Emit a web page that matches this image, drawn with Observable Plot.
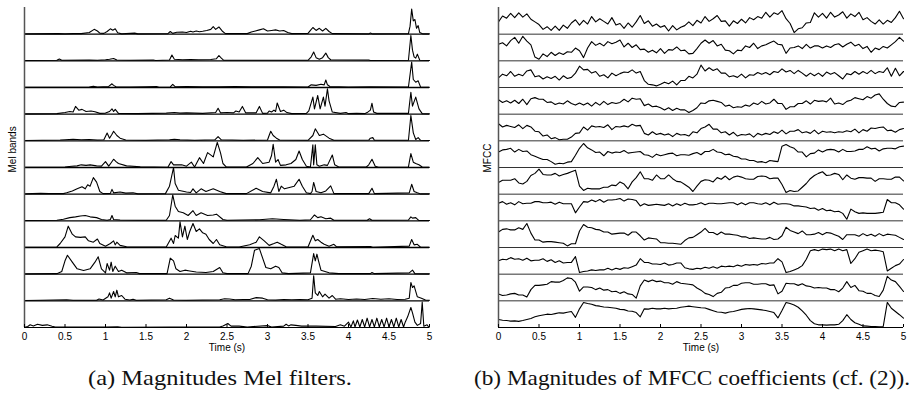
<!DOCTYPE html>
<html><head><meta charset="utf-8">
<script src="https://cdn.jsdelivr.net/npm/d3@7"></script>
<script src="https://cdn.jsdelivr.net/npm/@observablehq/plot@0.6"></script>
<style>
body{margin:0;background:#fff;}
#wrap{position:relative;width:916px;height:394px;overflow:hidden;background:#fff;}
#left{position:absolute;left:0;top:0;}
#right{position:absolute;left:460px;top:0;}
#caps{position:absolute;left:0;top:354px;}
</style></head>
<body><div id="wrap"><div id="left"></div><div id="right"></div>
<svg id="caps" width="916" height="40" font-family="'Liberation Serif', 'Times New Roman', serif" font-size="21" fill="#111">
<text id="capA" x="220" y="31" text-anchor="middle" textLength="264" lengthAdjust="spacingAndGlyphs">(a) Magnitudes Mel filters.</text>
<text id="capB" x="692" y="31" text-anchor="middle" textLength="436" lengthAdjust="spacingAndGlyphs">(b) Magnitudes of MFCC coefficients (cf. (2)).</text>
</svg></div>
<script>
// ---- Data ----
const xTicks = [0, 0.5, 1, 1.5, 2, 2.5, 3, 3.5, 4, 4.5, 5];
const xLabel = "Time (s)";
const melLabel = "Mel bands";
const mfccLabel = "MFCC";

// Mel filter magnitudes (top band first): [time (s), magnitude]
const mel1 = [[0,0.01],[0.42,0.02],[0.5,0.01],[0.6,0.02],[0.7,0.02],[0.8,0.06],[0.86,0.18],[0.9,0.12],[0.93,0.04],[0.98,0.03],[1.02,0.1],[1.06,0.2],[1.09,0.15],[1.12,0.2],[1.15,0.05],[1.2,0.01],[1.36,0.04],[1.4,0.01],[1.77,0.02],[1.8,0.1],[1.83,0.03],[1.88,0.07],[1.95,0.08],[2.0,0.06],[2.05,0.11],[2.08,0.08],[2.12,0.12],[2.16,0.09],[2.2,0.11],[2.25,0.14],[2.3,0.18],[2.33,0.28],[2.36,0.18],[2.4,0.27],[2.44,0.12],[2.48,0.02],[2.75,0.02],[2.8,0.08],[2.85,0.12],[2.9,0.16],[2.95,0.2],[3.0,0.12],[3.05,0.14],[3.1,0.16],[3.15,0.12],[3.2,0.14],[3.25,0.06],[3.3,0.02],[3.5,0.03],[3.53,0.14],[3.56,0.25],[3.6,0.14],[3.64,0.22],[3.68,0.12],[3.72,0.22],[3.76,0.1],[3.8,0.02],[4.25,0.01],[4.27,0.04],[4.3,0.01],[4.74,0.02],[4.76,0.3],[4.78,0.94],[4.8,0.5],[4.82,0.55],[4.84,0.22],[4.86,0.32],[4.88,0.06],[4.92,0.01],[5,0.01]];
const mel2 = [[0,0.01],[0.4,0.02],[0.43,0.07],[0.46,0.02],[0.8,0.03],[0.9,0.02],[1.0,0.04],[1.05,0.06],[1.1,0.09],[1.14,0.03],[1.3,0.02],[1.59,0.03],[1.62,0.01],[1.79,0.03],[1.82,0.22],[1.85,0.06],[1.95,0.04],[2.05,0.05],[2.15,0.04],[2.3,0.05],[2.37,0.08],[2.4,0.2],[2.43,0.1],[2.46,0.02],[2.7,0.02],[3.0,0.02],[3.5,0.02],[3.54,0.15],[3.57,0.33],[3.6,0.12],[3.64,0.06],[3.68,0.12],[3.72,0.29],[3.75,0.12],[3.78,0.04],[4.25,0.03],[4.27,0.01],[4.74,0.02],[4.77,0.95],[4.79,0.4],[4.81,0.15],[4.83,0.1],[4.85,0.25],[4.88,0.02],[5,0.01]];
const mel3 = [[0,0.01],[0.8,0.02],[0.85,0.05],[0.9,0.02],[1.04,0.04],[1.08,0.14],[1.1,0.08],[1.13,0.03],[1.3,0.02],[1.5,0.03],[1.63,0.04],[1.66,0.01],[1.8,0.02],[1.83,0.12],[1.86,0.03],[2.0,0.04],[2.2,0.03],[2.4,0.03],[2.6,0.04],[2.8,0.03],[3.0,0.03],[3.2,0.03],[3.5,0.02],[3.54,0.1],[3.6,0.08],[3.66,0.12],[3.7,0.1],[3.72,0.28],[3.74,0.1],[3.77,0.04],[4.0,0.02],[4.27,0.03],[4.74,0.02],[4.78,0.95],[4.8,0.3],[4.83,0.2],[4.86,0.25],[4.89,0.02],[5,0.01]];
const mel4 = [[0,0.01],[0.4,0.02],[0.5,0.06],[0.56,0.1],[0.6,0.08],[0.63,0.29],[0.67,0.15],[0.71,0.18],[0.76,0.1],[0.82,0.12],[0.87,0.09],[0.93,0.03],[1.0,0.04],[1.05,0.1],[1.08,0.2],[1.1,0.1],[1.12,0.18],[1.16,0.03],[1.4,0.02],[1.75,0.04],[1.85,0.06],[1.92,0.04],[2.0,0.05],[2.2,0.03],[2.36,0.06],[2.39,0.22],[2.42,0.05],[2.5,0.06],[2.58,0.05],[2.61,0.12],[2.65,0.08],[2.69,0.29],[2.73,0.05],[2.86,0.05],[2.9,0.29],[2.94,0.03],[3.0,0.04],[3.02,0.12],[3.05,0.08],[3.08,0.15],[3.1,0.1],[3.12,0.42],[3.16,0.1],[3.2,0.15],[3.24,0.06],[3.3,0.02],[3.48,0.03],[3.51,0.12],[3.56,0.64],[3.58,0.2],[3.62,0.7],[3.65,0.2],[3.69,0.64],[3.71,0.3],[3.74,0.95],[3.76,0.5],[3.8,0.08],[3.9,0.03],[3.97,0.06],[4.0,0.02],[4.1,0.03],[4.2,0.02],[4.23,0.06],[4.27,0.15],[4.29,0.41],[4.31,0.08],[4.35,0.03],[4.74,0.03],[4.77,0.82],[4.79,0.3],[4.83,0.64],[4.87,0.2],[4.91,0.02],[5,0.01]];
const mel5 = [[0,0.01],[0.44,0.03],[0.5,0.04],[0.6,0.06],[0.7,0.04],[0.8,0.05],[0.9,0.03],[0.98,0.04],[1.02,0.29],[1.05,0.1],[1.08,0.25],[1.1,0.36],[1.14,0.2],[1.18,0.1],[1.25,0.03],[1.5,0.02],[1.79,0.04],[1.85,0.06],[1.92,0.04],[2.1,0.02],[2.35,0.04],[2.39,0.16],[2.43,0.04],[2.7,0.02],[3.0,0.03],[3.02,0.2],[3.04,0.36],[3.07,0.2],[3.11,0.1],[3.15,0.03],[3.5,0.02],[3.56,0.2],[3.59,0.45],[3.62,0.3],[3.64,0.2],[3.69,0.25],[3.76,0.1],[3.82,0.02],[4.25,0.03],[4.27,0.1],[4.3,0.12],[4.32,0.02],[4.74,0.02],[4.77,0.95],[4.8,0.3],[4.83,0.05],[4.86,0.12],[4.89,0.02],[5,0.01]];
const mel6 = [[0,0.01],[0.5,0.02],[0.55,0.04],[0.65,0.06],[0.7,0.1],[0.76,0.08],[0.81,0.1],[0.89,0.06],[0.95,0.05],[1.0,0.22],[1.04,0.05],[1.07,0.18],[1.1,0.31],[1.13,0.22],[1.16,0.15],[1.26,0.06],[1.43,0.03],[1.77,0.01],[1.81,0.22],[1.84,0.1],[1.94,0.1],[2.0,0.05],[2.06,0.2],[2.1,0.02],[2.16,0.37],[2.21,0.15],[2.26,0.56],[2.33,0.4],[2.38,0.94],[2.42,0.55],[2.45,0.15],[2.49,0.02],[2.74,0.02],[2.82,0.15],[2.88,0.37],[2.94,0.15],[3.02,0.2],[3.05,0.45],[3.07,0.87],[3.1,0.2],[3.13,0.3],[3.16,0.08],[3.23,0.1],[3.29,0.15],[3.35,0.3],[3.39,0.62],[3.43,0.3],[3.48,0.05],[3.53,0.02],[3.56,0.85],[3.57,0.1],[3.59,0.85],[3.61,0.1],[3.64,0.05],[3.7,0.1],[3.74,0.08],[3.8,0.47],[3.83,0.1],[3.88,0.02],[4.22,0.02],[4.25,0.1],[4.29,0.31],[4.33,0.05],[4.37,0.01],[4.74,0.02],[4.77,0.52],[4.8,0.2],[4.83,0.15],[4.87,0.1],[4.91,0.02],[5,0.01]];
const mel7 = [[0,0.01],[0.1,0.02],[0.2,0.03],[0.3,0.02],[0.48,0.02],[0.52,0.05],[0.59,0.12],[0.65,0.2],[0.71,0.28],[0.75,0.2],[0.78,0.35],[0.81,0.3],[0.85,0.62],[0.89,0.45],[0.93,0.1],[0.97,0.02],[1.06,0.03],[1.08,0.18],[1.1,0.05],[1.18,0.08],[1.25,0.04],[1.34,0.05],[1.4,0.01],[1.74,0.02],[1.79,0.3],[1.84,1.0],[1.86,0.4],[1.9,0.15],[2.0,0.08],[2.05,0.06],[2.08,0.2],[2.12,0.05],[2.18,0.2],[2.24,0.1],[2.33,0.2],[2.41,0.1],[2.49,0.02],[2.74,0.02],[2.86,0.22],[2.94,0.1],[3.04,0.05],[3.08,0.3],[3.11,0.56],[3.14,0.1],[3.17,0.3],[3.21,0.2],[3.27,0.25],[3.33,0.3],[3.39,0.56],[3.43,0.3],[3.48,0.05],[3.53,0.02],[3.55,0.1],[3.57,0.44],[3.6,0.1],[3.66,0.05],[3.72,0.12],[3.78,0.31],[3.82,0.02],[4.25,0.02],[4.29,0.22],[4.32,0.02],[4.75,0.05],[4.78,0.37],[4.81,0.1],[4.85,0.05],[4.89,0.01],[5,0.01]];
const mel8 = [[0,0.01],[0.4,0.02],[0.48,0.06],[0.56,0.12],[0.63,0.15],[0.69,0.18],[0.75,0.2],[0.81,0.15],[0.89,0.12],[0.95,0.05],[1.02,0.02],[1.06,0.05],[1.08,0.2],[1.1,0.05],[1.18,0.03],[1.4,0.02],[1.75,0.02],[1.79,0.2],[1.83,0.97],[1.86,0.55],[1.9,0.35],[1.96,0.3],[2.02,0.2],[2.08,0.38],[2.12,0.2],[2.18,0.3],[2.26,0.2],[2.33,0.22],[2.37,0.25],[2.45,0.05],[2.5,0.02],[2.9,0.04],[3.06,0.08],[3.2,0.05],[3.4,0.02],[3.53,0.04],[3.58,0.22],[3.62,0.12],[3.66,0.15],[3.72,0.08],[3.78,0.1],[3.82,0.02],[4.23,0.02],[4.26,0.08],[4.29,0.02],[4.74,0.03],[4.77,0.15],[4.79,0.1],[4.83,0.12],[4.87,0.01],[5,0.01]];
const mel9 = [[0,0.01],[0.4,0.02],[0.44,0.15],[0.5,0.4],[0.54,0.8],[0.59,0.5],[0.63,0.4],[0.69,0.38],[0.75,0.4],[0.79,0.25],[0.85,0.2],[0.9,0.32],[0.93,0.15],[1.0,0.05],[1.06,0.15],[1.1,0.25],[1.12,0.1],[1.14,0.2],[1.18,0.08],[1.26,0.03],[1.45,0.02],[1.75,0.02],[1.81,0.35],[1.84,0.15],[1.86,0.45],[1.9,0.35],[1.92,0.96],[1.95,0.4],[1.98,0.8],[2.01,0.3],[2.04,0.6],[2.08,0.9],[2.12,0.6],[2.16,0.7],[2.2,0.55],[2.24,0.5],[2.28,0.3],[2.33,0.15],[2.37,0.3],[2.41,0.1],[2.49,0.03],[2.65,0.02],[2.78,0.1],[2.86,0.2],[2.9,0.4],[2.96,0.25],[3.02,0.08],[3.08,0.15],[3.12,0.2],[3.17,0.12],[3.23,0.03],[3.5,0.02],[3.56,0.46],[3.59,0.25],[3.62,0.3],[3.66,0.2],[3.7,0.12],[3.76,0.05],[3.82,0.12],[3.85,0.03],[4.27,0.04],[4.3,0.01],[4.75,0.05],[4.78,0.3],[4.81,0.1],[4.85,0.12],[4.89,0.01],[5,0.01]];
const mel10 = [[0,0.01],[0.4,0.02],[0.46,0.1],[0.5,0.5],[0.53,0.71],[0.59,0.45],[0.65,0.2],[0.73,0.14],[0.81,0.2],[0.87,0.45],[0.91,0.65],[0.95,0.2],[1.0,0.05],[1.02,0.4],[1.05,0.15],[1.07,0.45],[1.09,0.1],[1.12,0.3],[1.16,0.1],[1.2,0.15],[1.26,0.05],[1.38,0.06],[1.42,0.02],[1.76,0.02],[1.8,0.6],[1.84,0.5],[1.87,0.2],[1.92,0.1],[1.98,0.15],[2.04,0.12],[2.12,0.08],[2.24,0.06],[2.33,0.1],[2.41,0.25],[2.45,0.05],[2.5,0.02],[2.76,0.02],[2.8,0.3],[2.84,0.9],[2.9,0.96],[2.94,0.6],[2.98,0.25],[3.04,0.2],[3.1,0.3],[3.14,0.25],[3.18,0.05],[3.26,0.02],[3.53,0.05],[3.57,0.77],[3.59,0.5],[3.61,0.75],[3.63,0.5],[3.66,0.15],[3.76,0.05],[3.88,0.02],[4.27,0.02],[4.29,0.06],[4.32,0.02],[4.75,0.05],[4.79,0.15],[4.82,0.02],[5,0.01]];
const mel11 = [[0,0.01],[0.2,0.02],[0.52,0.04],[0.6,0.02],[0.89,0.02],[0.92,0.07],[0.97,0.03],[1.03,0.15],[1.05,0.3],[1.07,0.1],[1.1,0.35],[1.12,0.15],[1.14,0.4],[1.16,0.15],[1.2,0.2],[1.24,0.06],[1.3,0.03],[1.34,0.06],[1.38,0.02],[1.75,0.04],[1.79,0.1],[1.84,0.03],[2.0,0.02],[2.2,0.03],[2.41,0.04],[2.47,0.08],[2.53,0.07],[2.6,0.04],[2.7,0.05],[2.78,0.05],[2.86,0.12],[2.94,0.1],[3.0,0.04],[3.1,0.03],[3.2,0.05],[3.3,0.04],[3.4,0.05],[3.5,0.04],[3.55,0.1],[3.57,0.94],[3.59,0.3],[3.62,0.2],[3.64,0.35],[3.68,0.15],[3.71,0.25],[3.76,0.1],[3.8,0.2],[3.84,0.06],[3.9,0.08],[4.0,0.05],[4.1,0.07],[4.2,0.05],[4.3,0.09],[4.4,0.06],[4.5,0.08],[4.6,0.05],[4.7,0.06],[4.75,0.1],[4.77,0.69],[4.79,0.5],[4.81,0.56],[4.85,0.15],[4.9,0.1],[4.95,0.03],[5,0.02]];
const mel12 = [[0,0.01],[0.04,0.04],[0.07,0.1],[0.11,0.06],[0.16,0.12],[0.22,0.08],[0.28,0.1],[0.34,0.05],[0.38,0.02],[1.0,0.02],[1.15,0.03],[1.2,0.01],[1.8,0.02],[2.41,0.02],[2.45,0.06],[2.51,0.15],[2.55,0.05],[2.65,0.05],[2.75,0.02],[3.0,0.07],[3.05,0.02],[3.2,0.05],[3.23,0.12],[3.26,0.06],[3.29,0.1],[3.35,0.08],[3.42,0.05],[3.6,0.05],[3.84,0.04],[3.9,0.1],[3.95,0.05],[4.0,0.2],[4.03,0.02],[4.06,0.25],[4.08,0.02],[4.11,0.28],[4.14,0.02],[4.17,0.3],[4.2,0.02],[4.23,0.35],[4.26,0.02],[4.29,0.3],[4.32,0.02],[4.35,0.35],[4.38,0.02],[4.41,0.3],[4.44,0.02],[4.47,0.35],[4.5,0.02],[4.53,0.3],[4.56,0.02],[4.59,0.35],[4.62,0.02],[4.65,0.3],[4.68,0.02],[4.7,0.2],[4.73,0.4],[4.77,0.75],[4.79,0.55],[4.82,0.2],[4.85,0.08],[4.89,0.15],[4.91,0.95],[4.93,0.05],[4.97,0.1],[4.99,0.02],[5,0.02]];

// MFCC magnitudes (top coefficient first), one frame every 0.05 s, in % of the band height
const frameStep = 0.05;
const mfcc1 = [46,68,60,78,62,80,64,76,56,46, 36,18,28,14,30,14,34,22,42,54, 34,52,38,66,46,58,48,38,62,34, 40,22,42,26,46,70,40,50,30,38, 26,32,12,32,16,26,32,46,32,52, 42,66,48,58,70,48,50,30,50,40, 56,42,62,54,66,60,82,64,80,74, 88,58,40,6,20,24,42,44,80,64, 78,60,82,64,72,84,60,76,66,82, 54,62,48,38,54,38,52,44,62,86, 58];
const mfcc2 = [62,68,56,76,88,66,92,74,60,14, 6,26,16,32,20,30,24,34,32,48, 38,12,48,72,58,66,56,72,64,70, 78,52,66,50,60,42,44,32,40,30, 46,28,42,40,52,38,40,26,28,46, 66,78,66,76,56,62,40,38,26,40, 38,56,50,66,46,56,60,68,74,62, 60,28,48,50,56,46,62,48,56,56, 48,56,50,60,64,52,62,70,56,62, 46,54,32,48,42,54,48,60,72,88, 74];
const mfcc3 = [36,50,44,60,42,50,44,62,66,40, 44,32,40,34,42,28,44,34,38,54, 80,66,68,54,60,42,48,36,54,44, 52,58,56,66,54,60,26,12,10,6, 12,20,14,24,10,26,26,42,36,50, 84,62,74,64,70,54,54,40,44,38, 50,36,48,46,56,50,56,48,60,56, 70,58,64,52,64,54,42,54,44,54, 42,58,50,56,44,32,52,48,60,50, 60,52,64,52,60,56,74,42,72,44, 60];
const mfcc4 = [54,44,50,42,52,40,56,36,58,62, 56,56,44,46,36,42,38,50,40,34, 42,34,42,30,44,34,48,36,44,40, 44,56,46,60,56,58,32,38,28,30, 24,16,24,14,22,16,16,6,14,24, 42,40,50,52,48,44,30,34,24,28, 26,34,30,42,36,48,38,42,56,40, 40,18,28,28,40,40,50,38,52,48, 50,46,60,38,42,36,48,52,62,58, 54,66,60,72,76,56,40,30,28,44, 45];
const mfcc5 = [64,52,58,54,50,60,46,58,52,36, 34,18,22,8,12,4,6,6,14,28, 30,52,40,56,52,54,50,60,42,54, 52,56,52,62,56,58,28,22,34,24, 28,22,26,16,28,22,24,18,34,30, 46,52,62,44,44,30,34,22,32,18, 24,22,26,14,28,22,28,24,34,28, 40,26,36,36,42,30,34,28,40,26, 36,32,34,30,34,32,38,34,44,30, 42,36,48,46,50,52,38,40,32,42, 46];
const mfcc6 = [58,66,68,72,58,68,60,62,48,42, 36,30,30,22,12,16,14,20,22,46, 72,90,74,66,56,58,44,60,54,58, 56,64,54,56,58,60,48,46,38,50, 44,48,52,54,44,48,48,46,52,56, 48,60,60,68,58,56,48,50,42,40, 32,32,26,26,20,22,18,26,24,22, 80,86,78,72,58,58,40,52,54,66, 58,66,68,66,58,68,60,60,62,68, 68,78,70,72,62,70,72,72,70,78, 80];
const mfcc7 = [44,52,52,52,58,42,38,48,70,78, 94,74,72,72,78,68,74,78,84,90, 30,14,22,20,20,20,26,26,34,32, 46,38,20,46,62,84,58,58,52,72, 58,58,72,58,48,46,36,26,10,30, 48,54,52,46,62,56,68,54,64,68, 64,58,56,56,66,68,66,58,60,60, 36,6,14,10,12,26,40,58,70,78, 84,70,72,78,74,54,72,60,56,62, 62,60,60,48,58,58,56,56,64,64, 50];
const mfcc8 = [66,72,62,68,60,72,64,66,66,72, 72,68,68,70,62,70,64,64,64,30, 52,72,70,78,72,80,70,78,78,80, 84,74,82,80,76,56,64,58,60,62, 60,58,64,56,64,58,66,60,60,62, 68,60,66,66,64,64,66,68,68,60, 68,60,68,68,64,62,68,60,70,62, 64,64,62,56,56,54,52,46,48,40, 46,38,40,34,36,28,6,44,34,28, 30,28,28,28,30,32,80,68,68,60, 44];
const mfcc9 = [58,68,70,66,66,74,68,90,54,28, 28,20,22,22,20,18,16,6,14,14, 62,86,76,74,68,66,58,58,50,52, 54,54,46,58,58,44,28,36,34,32, 18,18,16,16,14,12,26,36,38,48, 58,72,56,56,48,58,50,50,48,46, 40,40,34,36,34,32,32,38,30,32, 44,76,64,58,52,62,48,48,50,56, 48,56,54,48,42,30,48,48,48,42, 52,44,50,42,52,44,50,48,46,38, 30];
const mfcc10 = [50,56,54,62,56,58,52,60,50,52, 52,58,48,54,44,50,42,44,44,66, 6,10,12,16,14,16,16,22,16,22, 18,24,22,28,34,58,44,44,38,38, 36,42,34,36,42,42,24,20,18,22, 20,26,22,28,22,30,28,30,28,34, 30,36,34,36,34,40,38,42,42,58, 46,6,10,16,22,32,56,88,92,88, 94,92,94,88,94,88,92,40,58,82, 88,94,88,90,88,84,12,22,32,38, 55];
const mfcc11 = [26,20,22,26,28,22,22,14,42,58, 58,60,62,72,70,70,76,86,84,70, 36,52,52,50,42,48,40,42,34,36, 28,34,26,24,10,56,78,72,78,72, 74,68,68,62,72,66,64,62,60,48, 40,28,24,16,28,32,48,50,58,58, 66,68,68,62,62,64,64,58,60,26, 36,66,64,64,58,64,56,54,48,50, 48,48,42,42,34,48,72,50,58,38, 36,28,28,20,16,40,92,78,72,54, 35];
const mfcc12 = [30,27,26,24,25,23,26,30,34,40, 44,47,50,49,52,55,54,57,60,38, 70,94,90,87,82,80,77,76,74,72, 68,67,62,61,56,40,70,69,72,70, 70,72,70,71,72,76,78,80,78,76, 74,73,68,63,58,57,54,58,60,64, 68,70,71,70,68,66,64,60,56,36, 64,94,90,84,76,62,46,26,14,10, 10,9,10,10,12,26,48,30,18,12, 6,5,4,4,3,4,94,72,60,48, 35];

const melBands = [mel1, mel2, mel3, mel4, mel5, mel6, mel7, mel8, mel9, mel10, mel11, mel12];
const mfccBands = [mfcc1, mfcc2, mfcc3, mfcc4, mfcc5, mfcc6, mfcc7, mfcc8, mfcc9, mfcc10, mfcc11, mfcc12];
const nBands = melBands.length;

const melRows = melBands.flatMap((pts, i) => pts.map(([t, v]) => ({t, y: (nBands - 1 - i) + v, band: i})));
const mfccRows = mfccBands.flatMap((vals, i) => vals.map((v, k) => ({t: k * frameStep, y: (nBands - 1 - i) + v / 100, band: i})));
const baselineLevels = d3.range(1, nBands);

const tickFont = '"Liberation Sans Narrow", "Liberation Sans", Arial, sans-serif';

function panel({rows, width, marginLeft, marginRight, ylabel, labelDx, baseStroke, baseWidth}) {
  return Plot.plot({
    width, height: 360,
    marginLeft, marginRight, marginTop: 7, marginBottom: 33,
    x: {domain: [0, 5], axis: null, label: null},
    y: {domain: [0, nBands], axis: null, label: null},
    style: {fontFamily: tickFont, fontSize: "10px", color: "black", background: "white", overflow: "visible"},
    marks: [
      Plot.ruleY(baselineLevels, {x1: 0, x2: 5, stroke: baseStroke, strokeWidth: baseWidth}),
      Plot.line(rows, {x: "t", y: "y", z: "band", stroke: "black", strokeWidth: 1.1}),
      Plot.ruleY([0], {x1: 0, x2: 5, stroke: "black", strokeWidth: 1.2}),
      Plot.ruleX([0], {y1: 0, y2: nBands, stroke: "#555", strokeWidth: 1.5}),
      Plot.axisX(xTicks, {tickSize: -3, tickPadding: 8, tickFormat: d => String(d), stroke: "black", label: null}),
      Plot.text([ylabel], {frameAnchor: "left", rotate: -90, dx: labelDx, dy: 5, fontSize: 10}),
      Plot.text([xLabel], {frameAnchor: "bottom", dy: 23, fontSize: 10})
    ]
  });
}

document.getElementById("left").append(panel({rows: melRows, width: 460, marginLeft: 24, marginRight: 31, ylabel: melLabel, labelDx: -12, baseStroke: "black", baseWidth: 1.3}));
document.getElementById("right").append(panel({rows: mfccRows, width: 456, marginLeft: 38, marginRight: 13, ylabel: mfccLabel, labelDx: -11, baseStroke: "#333", baseWidth: 1}));
</script>
</body></html>
